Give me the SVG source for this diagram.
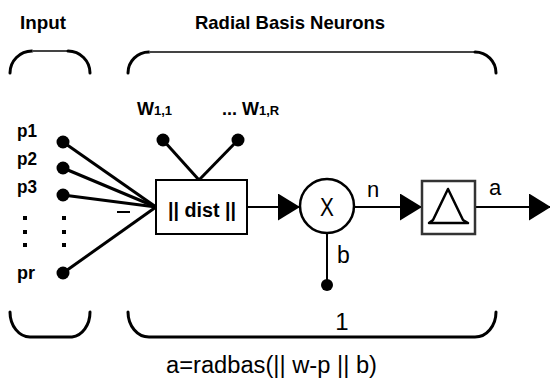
<svg xmlns="http://www.w3.org/2000/svg" width="550" height="383" viewBox="0 0 550 383">
<style>
  .hd{font-family:"Liberation Sans",Arial,sans-serif;font-weight:bold;fill:#000}
  .lb{font-family:"Liberation Sans",Arial,sans-serif;fill:#000}
  .ln{stroke:#000;stroke-width:2;fill:none}
  .in{stroke:#000;stroke-width:3;fill:none}
  .br{stroke:#000;stroke-width:3;fill:none;stroke-linecap:round}
  .bl{stroke:#444;stroke-width:2;fill:none}
  .dot{fill:#000}
</style>
<defs>
  <marker id="arr" markerUnits="userSpaceOnUse" markerWidth="23" markerHeight="28" refX="22" refY="13.5" orient="auto">
    <path d="M0,0 L22,13.5 L0,27 Z" fill="#000"/>
  </marker>
</defs>
<rect width="550" height="383" fill="#fff"/>

<g id="headings">
  <text class="hd" x="20" y="29" font-size="19" textLength="46" lengthAdjust="spacingAndGlyphs">Input</text>
  <text class="hd" x="195" y="29" font-size="19" textLength="190" lengthAdjust="spacingAndGlyphs">Radial Basis Neurons</text>
</g>

<g id="brackets">
  <path class="br" d="M10,73 A22,22 0 0 1 32,51"/>
  <path class="bl" d="M32,51 L68,51"/>
  <path class="br" d="M68,51 A22,22 0 0 1 90,73"/>
  <path class="br" d="M128,73 A21,21 0 0 1 149,52"/>
  <path class="bl" d="M149,52 L475,52"/>
  <path class="br" d="M475,52 A21,21 0 0 1 496,73"/>
  <path class="br" d="M10,312 A20,25 0 0 0 30,337 L72,337 A20,25 0 0 0 90,312"/>
  <path class="br" d="M128,312 A21,25 0 0 0 149,337 L475,337 A21,25 0 0 0 496,312"/>
</g>

<g id="connectors">
  <line class="in" x1="63" y1="142" x2="156" y2="207"/>
  <line class="in" x1="63" y1="168" x2="156" y2="207"/>
  <line class="in" x1="63" y1="195" x2="156" y2="207"/>
  <line class="in" x1="63" y1="273" x2="156" y2="207"/>
  <line class="in" x1="163" y1="140" x2="199" y2="180"/>
  <line class="in" x1="238" y1="140" x2="199" y2="180"/>
  <line class="ln" x1="247" y1="207" x2="300" y2="207" marker-end="url(#arr)"/>
  <line class="ln" x1="354" y1="207" x2="422" y2="207" marker-end="url(#arr)"/>
  <line class="ln" x1="475" y1="207" x2="551" y2="207" marker-end="url(#arr)"/>
  <line class="ln" x1="327" y1="233" x2="327" y2="285"/>
  <line x1="117" y1="212" x2="130" y2="212" stroke="#000" stroke-width="2"/>
</g>

<g id="inputs">
  <text class="hd" x="17" y="137" font-size="19" textLength="20" lengthAdjust="spacingAndGlyphs">p1</text>
  <text class="hd" x="17" y="165" font-size="19" textLength="20" lengthAdjust="spacingAndGlyphs">p2</text>
  <text class="hd" x="17" y="193" font-size="19" textLength="20" lengthAdjust="spacingAndGlyphs">p3</text>
  <text class="hd" x="17" y="279" font-size="19" textLength="18" lengthAdjust="spacingAndGlyphs">pr</text>
  <circle class="dot" cx="63" cy="142" r="6.5"/>
  <circle class="dot" cx="63" cy="168" r="6.5"/>
  <circle class="dot" cx="63" cy="195" r="6.5"/>
  <circle class="dot" cx="63" cy="273" r="6.5"/>
  <rect class="dot" x="23" y="216" width="4" height="4"/>
  <rect class="dot" x="23" y="230" width="4" height="4"/>
  <rect class="dot" x="23" y="243" width="4" height="4"/>
  <rect class="dot" x="62" y="216" width="4" height="4"/>
  <rect class="dot" x="62" y="230" width="4" height="4"/>
  <rect class="dot" x="62" y="243" width="4" height="4"/>
</g>

<g id="weights">
  <text class="hd" x="137" y="115" font-size="18">W<tspan font-size="13">1,1</tspan></text>
  <text class="hd" x="222" y="115" font-size="18">... W<tspan font-size="13">1,R</tspan></text>
  <circle class="dot" cx="163" cy="140" r="6.5"/>
  <circle class="dot" cx="238" cy="140" r="6.5"/>
</g>

<g id="dist">
  <rect x="156" y="180" width="91" height="54" fill="#fff" stroke="#000" stroke-width="2"/>
  <text class="hd" x="202" y="217" font-size="20" text-anchor="middle" textLength="68" lengthAdjust="spacingAndGlyphs">|| dist ||</text>
</g>

<g id="multiply">
  <circle cx="327" cy="206" r="27" fill="#fff" stroke="#000" stroke-width="2.5"/>
  <text class="lb" x="327" y="216" font-size="26" text-anchor="middle" transform="translate(327,0) scale(0.8,1) translate(-327,0)">X</text>
  <text class="lb" x="367" y="197" font-size="22">n</text>
</g>

<g id="bias">
  <circle class="dot" cx="327" cy="285" r="6"/>
  <text class="lb" x="337" y="263" font-size="23">b</text>
  <text class="lb" x="342" y="330" font-size="24" text-anchor="middle">1</text>
</g>

<g id="radbas">
  <rect x="422" y="181" width="53" height="53" fill="#fff" stroke="#333" stroke-width="2.5"/>
  <path d="M429,223 L433,220 L448,189 L463,220 L468,223 Z" fill="none" stroke="#000" stroke-width="2.5" stroke-linejoin="round"/>
  <text class="lb" x="489" y="195" font-size="22">a</text>
</g>

<g id="formula">
  <text class="lb" x="166" y="373" font-size="23" textLength="211" lengthAdjust="spacingAndGlyphs">a=radbas(|| w-p || b)</text>
</g>
</svg>
